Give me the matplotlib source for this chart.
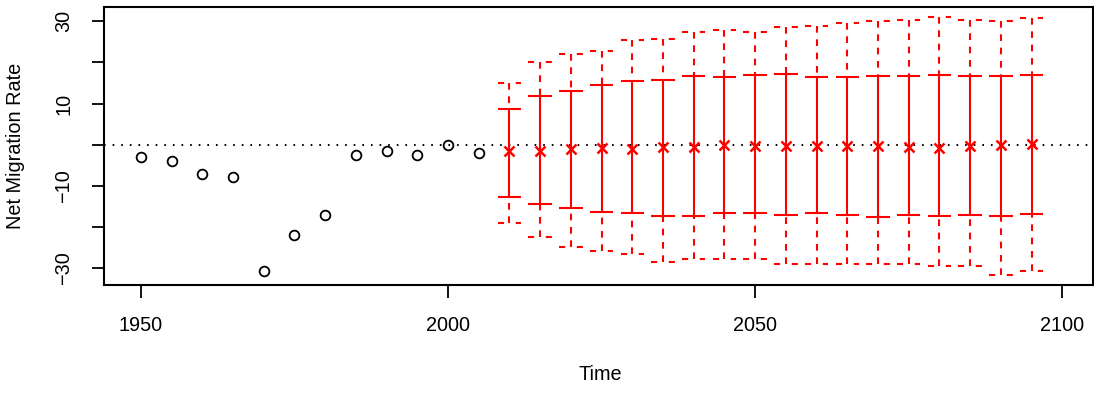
import numpy as np
import matplotlib
matplotlib.use("Agg")
import matplotlib.pyplot as plt

plt.rcParams['font.family'] = ['Liberation Sans', 'DejaVu Sans']
plt.rcParams['lines.scale_dashes'] = False

#%% DATA
histYears = [1950, 1955, 1960, 1965, 1970, 1975, 1980, 1985, 1990, 1995, 2000, 2005]
histRate = [-2.9, -4.0, -7.1, -7.8, -30.7, -22.0, -17.1, -2.4, -1.6, -2.5, 0.0, -1.9]

projYears = [2010, 2015, 2020, 2025, 2030, 2035, 2040, 2045, 2050,
             2055, 2060, 2065, 2070, 2075, 2080, 2085, 2090, 2095]
projMedian = [-1.45, -1.45, -1.05, -0.8, -0.97, -0.49, -0.6, -0.15, -0.3,
              -0.3, -0.2, -0.3, -0.3, -0.6, -0.8, -0.3, -0.1, 0.1]
pi80Upper = [8.75, 11.9, 13.0, 14.5, 15.4, 15.7, 16.6, 16.5, 16.9,
             17.2, 16.4, 16.4, 16.6, 16.6, 16.9, 16.7, 16.8, 17.0]
pi80Lower = [-12.6, -14.3, -15.5, -16.35, -16.6, -17.3, -17.4, -16.6, -16.6,
             -17.1, -16.5, -17.2, -17.6, -17.2, -17.3, -17.2, -17.4, -16.9]
pi95Upper = [14.9, 20.2, 21.95, 22.8, 25.4, 25.6, 27.4, 27.8, 27.5,
             28.5, 28.9, 29.5, 30.1, 30.4, 31.0, 30.4, 30.0, 30.8]
pi95Lower = [-19.1, -22.5, -24.8, -25.8, -26.5, -28.5, -27.8, -27.8, -27.8,
             -29.1, -29.1, -29.1, -29.1, -29.1, -29.4, -29.4, -31.6, -30.8]

xTicks = [1950, 2000, 2050, 2100]
yTicks = [-30, -20, -10, 0, 10, 20, 30]
yTickLabels = ["\u221230", "", "\u221210", "", "10", "", "30"]

#%% PLOTTING
fig = plt.figure(figsize=(10.94, 3.93), dpi=100)
ax = fig.add_axes([104/1094, 1-285/393, 989/1094, (285-7.3)/393])

red = "#FF0000"
capHalf = 1.9  # half width of the caps in years
lw = 1.5

ax.axhline(0, color="black", lw=1.4, linestyle=(0, (1.2, 5.0)), zorder=1)

yrs = np.array(projYears, dtype=float)
# dashed 95% parts, drawn from the outer cap inwards so the dashes meet the caps
ax.vlines(yrs, pi95Upper, pi80Upper, color=red, lw=lw, linestyle=(0, (4.8, 4.8)))
ax.vlines(yrs, pi95Lower, pi80Lower, color=red, lw=lw, linestyle=(0, (4.8, 4.8)))
ax.hlines(pi95Upper, yrs - capHalf, yrs + capHalf, color=red, lw=lw,
          linestyle=(0, (4.4, 8.4)))
ax.hlines(pi95Lower, yrs - capHalf, yrs + capHalf, color=red, lw=lw,
          linestyle=(0, (4.4, 8.4)))
# solid 80% parts
ax.vlines(yrs, pi80Lower, pi80Upper, color=red, lw=lw)
ax.hlines(pi80Upper, yrs - capHalf, yrs + capHalf, color=red, lw=lw)
ax.hlines(pi80Lower, yrs - capHalf, yrs + capHalf, color=red, lw=lw)
ax.plot(projYears, projMedian, "x", color=red, markersize=7, mew=1.8, zorder=4)

ax.plot(histYears, histRate, "o", mfc="none", mec="black", markersize=7, mew=1.3)

ax.set_xlim(1944.0, 2105.0)
ax.set_ylim(-34.1, 33.4)
ax.set_xticks(xTicks)
ax.set_xticklabels([str(t) for t in xTicks])
ax.set_yticks(yTicks)
ax.set_yticklabels(yTickLabels, rotation=90, va="center")
ax.tick_params(axis="both", direction="out", length=9, width=1.3,
               labelsize=14.3, pad=13)
for s in ax.spines.values():
    s.set_linewidth(1.5)

fig.text(16/1094, 1-146/393, "Net Migration Rate", rotation=90,
         ha="center", va="center", fontsize=14.3)
fig.text(600/1094, 1-375/393, "Time", ha="center", va="center", fontsize=14.3)

plt.savefig("out.png", dpi=100)
